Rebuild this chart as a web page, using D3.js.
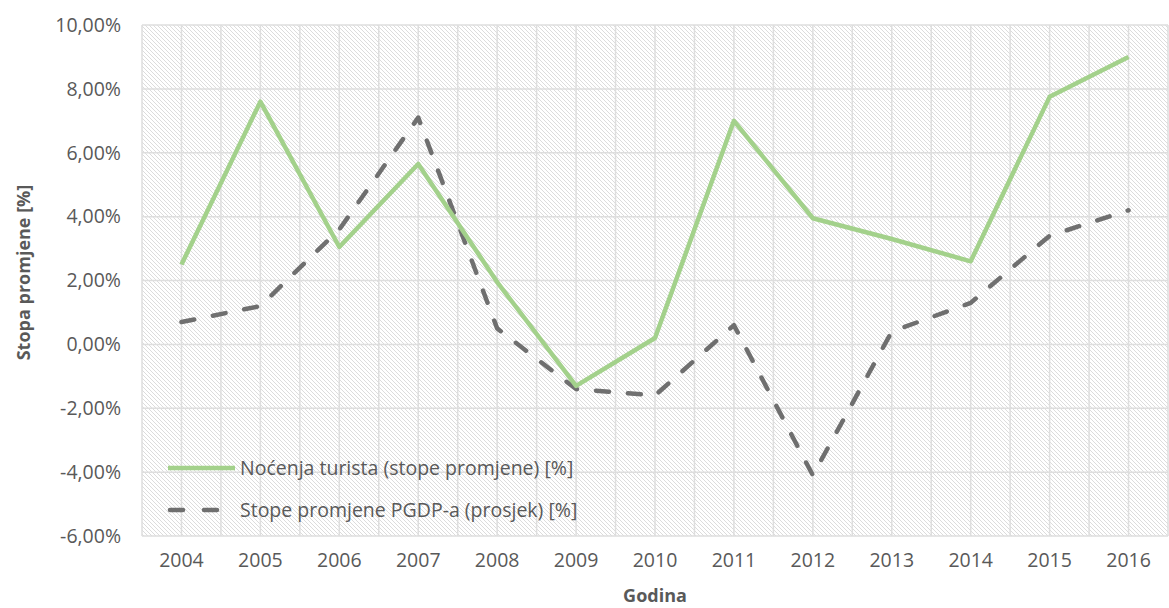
<!DOCTYPE html>
<html><head><meta charset="utf-8">
<script src="https://cdn.jsdelivr.net/npm/d3@7"></script>
<style>
body{margin:0;background:#fff;}
text{font-family:"Open Sans","Noto Sans",sans-serif;fill:#595959;}
</style></head>
<body>
<svg id="chart" width="1169" height="608"></svg>
<script>
const years = ["2004","2005","2006","2007","2008","2009","2010","2011","2012","2013","2014","2015","2016"];
const nocenja = [2.5, 7.6, 3.05, 5.65, 1.95, -1.3, 0.2, 7.0, 3.95, 3.3, 2.6, 7.75, 9.0];
const pgdp = [0.7, 1.2, 3.6, 7.1, 0.5, -1.4, -1.6, 0.6, -4.1, 0.4, 1.3, 3.4, 4.2];
const yTicks = [-6, -4, -2, 0, 2, 4, 6, 8, 10];
const seriesNames = ["Noćenja turista (stope promjene) [%]", "Stope promjene PGDP-a (prosjek) [%]"];

const svg = d3.select("#chart");
const L = 142, R = 1168, T = 25, B = 536;
const FS = 19.5;

const defs = svg.append("defs");
const pat = defs.append("pattern").attr("id","hatch").attr("patternUnits","userSpaceOnUse")
  .attr("width",4).attr("height",4);
pat.append("rect").attr("width",4).attr("height",4).attr("fill","#fff");
pat.append("path").attr("d","M-1,-1 L5,5 M-1,3 L1,5 M3,-1 L5,1").attr("stroke","#dcdcdc").attr("stroke-width",1);

const x = d3.scaleBand().domain(years).range([L, R]);
const y = d3.scaleLinear().domain([-6, 10]).range([B, T]);

svg.append("rect").attr("x",L).attr("y",T).attr("width",R-L).attr("height",B-T).attr("fill","url(#hatch)");

const g = svg.append("g");
const vpos = [];
years.forEach(d => { vpos.push(x(d)); vpos.push(x(d) + x.bandwidth()/2); });
vpos.push(R);
g.selectAll("line.v").data(vpos).join("line")
  .attr("x1", d=>d).attr("x2", d=>d).attr("y1", T).attr("y2", B)
  .attr("stroke","#dedede").attr("stroke-width",1.5);
g.selectAll("line.h").data(yTicks).join("line")
  .attr("x1", L).attr("x2", R).attr("y1", d=>y(d)).attr("y2", d=>y(d))
  .attr("stroke","#dedede").attr("stroke-width",1.5);

const fmt = v => d3.format(".2f")(v).replace(".", ",").replace("\u2212", "-") + "%";
const yAxis = d3.axisLeft(y).tickValues(yTicks).tickFormat(fmt).tickSize(0).tickPadding(21);
const ya = svg.append("g").attr("transform",`translate(${L},0)`).call(yAxis);
ya.select(".domain").remove();
ya.selectAll("text").attr("font-size",FS).style("font-family","'Open Sans',sans-serif").attr("fill","#595959");

const xAxis = d3.axisBottom(x).tickSize(0).tickPadding(17);
const xa = svg.append("g").attr("transform",`translate(0,${B})`).call(xAxis);
xa.select(".domain").remove();
xa.selectAll("text").attr("font-size",FS).style("font-family","'Open Sans',sans-serif").attr("fill","#595959");

const line = d3.line().x((d,i)=>x(years[i]) + x.bandwidth()/2).y(d=>y(d));
svg.append("path").datum(pgdp).attr("d", line).attr("fill","none")
  .attr("stroke","#6f6f6f").attr("stroke-width",4.5).attr("stroke-dasharray","13,19")
  .attr("stroke-linecap","round").attr("stroke-linejoin","round");
svg.append("path").datum(nocenja).attr("d", line).attr("fill","none")
  .attr("stroke","#a3d18b").attr("stroke-width",4.5).attr("stroke-linejoin","round");

const lg = svg.append("g");
lg.append("line").attr("x1",168).attr("x2",235).attr("y1",468).attr("y2",468)
  .attr("stroke","#a3d18b").attr("stroke-width",4.5);
lg.append("line").attr("x1",170).attr("x2",220).attr("y1",510).attr("y2",510)
  .attr("stroke","#6f6f6f").attr("stroke-width",4.5).attr("stroke-dasharray","13,21").attr("stroke-linecap","round");
lg.append("text").attr("x",240).attr("y",475).attr("font-size",FS).text(seriesNames[0]);
lg.append("text").attr("x",240).attr("y",517).attr("font-size",FS).text(seriesNames[1]);

svg.append("text").attr("x",L + (R-L)/2).attr("y",602).attr("text-anchor","middle")
  .attr("font-size",18).attr("font-weight","bold").text("Godina");
svg.append("text").attr("transform",`translate(30,${(T+B)/2 - 8}) rotate(-90)`).attr("text-anchor","middle")
  .attr("font-size",18).attr("font-weight","bold").text("Stopa promjene [%]");
</script>
</body></html>
